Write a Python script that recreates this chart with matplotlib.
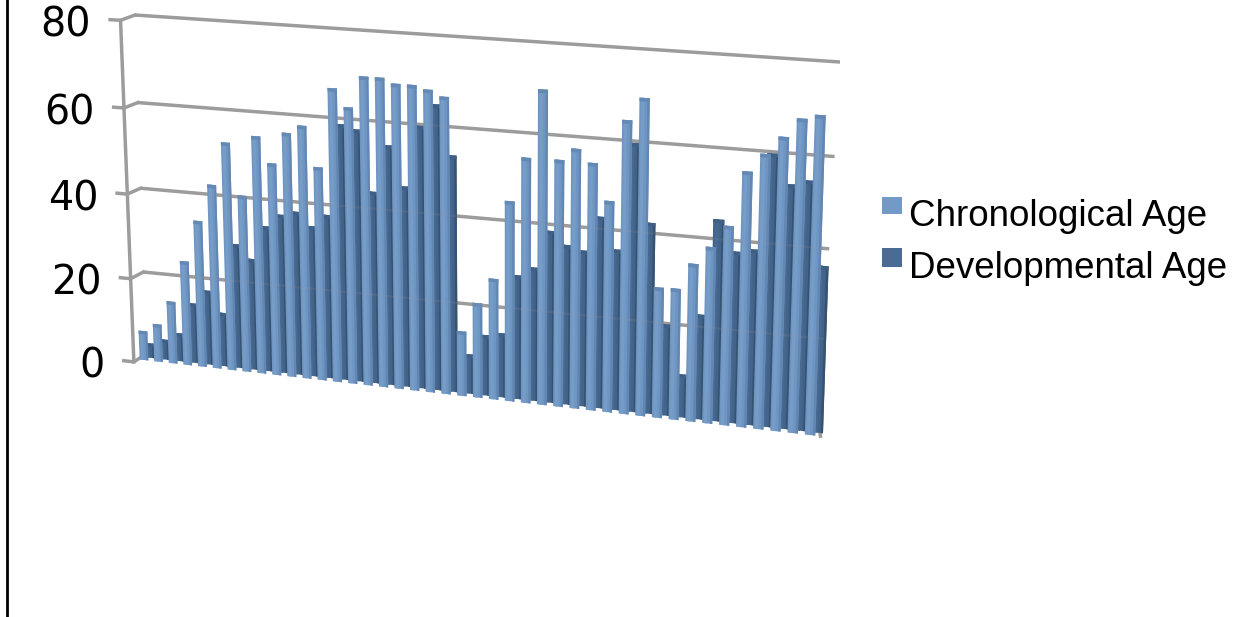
import numpy as np
import matplotlib
matplotlib.use('Agg')
import matplotlib.pyplot as plt
from matplotlib.patches import Rectangle
from matplotlib.transforms import Transform

chronological_age = [7, 9, 14.8, 24.7, 34.5, 43.2, 53.2, 41.3, 55.2, 49.3, 56.5, 58.4, 49.3, 67.3, 63.3,
                     70.4, 70.4, 69.3, 69.3, 68.5, 67.2, 14.9, 21.7, 27.6, 45.3, 55.2, 70.3, 55.3, 58,
                     55.2, 47.2, 65, 70, 29.2, 29.3, 35.1, 39.1, 44, 56, 60, 63.9, 68, 69]
developmental_age = [3.5, 4.8, 6.7, 14.2, 17.6, 12.7, 29.2, 26.1, 34, 37, 38, 35, 37.9, 58.7, 57.8,
                     44.1, 54.8, 45.9, 59.7, 64.7, 53.7, 9.1, 13.9, 14.7, 28.2, 30.3, 38.8, 36, 35.1,
                     42.9, 36, 59.5, 42.5, 20.5, 9.7, 23.4, 44.5, 37.9, 38.7, 59.5, 53.3, 54.4, 36.5]
y_ticks = [0, 20, 40, 60, 80]
series_names = ['Chronological Age', 'Developmental Age']

GRID = '#9c9c9c'


class Perspective(Transform):
    # projective map taking (category, value) onto the tilted chart plane
    input_dims = 2
    output_dims = 2
    is_affine = False

    def __init__(self, src, dst):
        super().__init__()
        rows, rhs = [], []
        for (u, v), (x, y) in zip(src, dst):
            rows.append([u, v, 1, 0, 0, 0, -u * x, -v * x])
            rows.append([0, 0, 0, u, v, 1, -u * y, -v * y])
            rhs += [x, y]
        self.h = np.append(np.linalg.solve(np.array(rows, float), np.array(rhs, float)), 1).reshape(3, 3)

    def transform_non_affine(self, values):
        values = np.asarray(values, float)
        pts = np.column_stack([values, np.ones(len(values))]) @ self.h.T
        return pts[:, :2] / pts[:, 2:]


n = len(chronological_age)
front = Perspective([(0, 0), (n - 1, 0), (0, 80), (n - 1, 80)],
                    [(144, 360), (810, 435), (131, 18), (822, 62)])
wall = Perspective([(0, 0), (1, 0), (0, 80), (1, 80)],
                   [(146, 354), (819, 427), (135, 15), (840, 62)])

fig = plt.figure(figsize=(12.45, 6.17), dpi=100)
ax = fig.add_axes([0, 0, 1, 1])
ax.axis('off')

front_tr = front + ax.transData
wall_tr = wall + ax.transData

# back wall gridlines with the little stubs running out to the axis
for v in y_ticks:
    ax.plot([0, 1], [v, v], color=GRID, lw=2.5, transform=wall_tr, zorder=1, solid_capstyle='butt')
    axis_pt = front.transform([[-0.7, v]])[0]
    tick_pt = front.transform([[-1.4, v]])[0]
    wall_pt = wall.transform([[0, v]])[0]
    ax.plot([tick_pt[0], axis_pt[0], wall_pt[0]], [tick_pt[1] + 3, axis_pt[1] + 3, wall_pt[1]],
            color=GRID, lw=2.5, zorder=1)
    ax.text(tick_pt[0] - 19, tick_pt[1] + 20, str(v), ha='right', va='baseline',
            fontsize=28.5, family='DejaVu Sans', color='black')
axis_x, axis_y = zip(*front.transform([[-0.7, 0], [-0.7, 80]]))
ax.plot(axis_x, np.array(axis_y) + 3, color=GRID, lw=2.5, zorder=1)

# floor corner at the far right
corner_a = wall.transform([[1, 0]])[0]
corner_b = front.transform([[n - 0.4, 0]])[0]
ax.plot([corner_a[0], corner_b[0]], [corner_a[1], corner_b[1]], color=GRID, lw=2.5, zorder=1)


def draw_series(values, offset, bottom, width, body, light, dark, top, zorder):
    xs = np.arange(n) + offset
    vals = np.array(values)
    ax.bar(xs, vals, width=width, bottom=bottom, color=body, transform=front_tr, zorder=zorder, lw=0)
    ax.bar(xs - 0.1, vals, width=0.2, bottom=bottom, color=light, transform=front_tr, zorder=zorder, lw=0)
    ax.bar(xs + width / 2 - 0.07, vals, width=0.14, bottom=bottom, color=dark, transform=front_tr,
           zorder=zorder, lw=0)
    ax.bar(xs, np.full(n, 0.8), width=width, bottom=bottom + vals - 0.8, color=top, transform=front_tr,
           zorder=zorder, lw=0)


draw_series(developmental_age, 0.42, 0.7, 0.64, '#42638a', '#486a92', '#36526f', '#3f5f85', 2)
draw_series(chronological_age, 0.0, 0.0, 0.6, '#6f95c2', '#769cc8', '#6287b3', '#6589b5', 3)

# gridlines show faintly through the bars
for v in y_ticks[1:]:
    ax.plot([0, 1], [v, v], color=GRID, lw=1.6, alpha=0.13, transform=wall_tr, zorder=4, solid_capstyle='butt')

ax.axvline(7, color='black', lw=2, zorder=5)

ax.add_patch(Rectangle((882, 197), 20, 17, color='#7399c6', lw=0, zorder=5))
ax.add_patch(Rectangle((882, 248), 20, 19, color='#4a6b93', lw=0, zorder=5))
ax.text(909, 226, series_names[0], fontsize=26.5, family='Liberation Sans', va='baseline', color='black')
ax.text(909, 278, series_names[1], fontsize=26.5, family='Liberation Sans', va='baseline', color='black')

ax.set_xlim(0, 1245)
ax.set_ylim(617, 0)
fig.savefig('out.png', dpi=100)
